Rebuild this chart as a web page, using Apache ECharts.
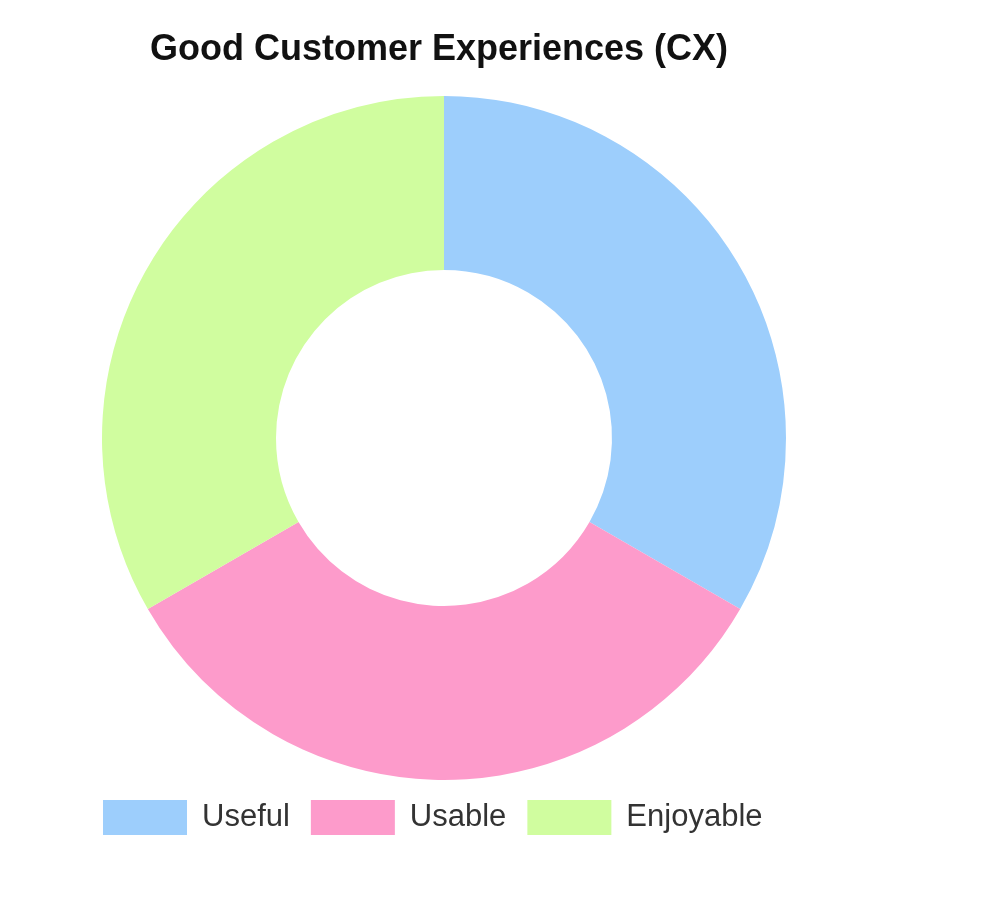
<!DOCTYPE html>
<html><head><meta charset="utf-8">
<script src="https://cdn.jsdelivr.net/npm/echarts@6/dist/echarts.min.js"></script>
<style>html,body{margin:0;padding:0;background:#fff}#c{width:982px;height:906px}</style>
</head><body><div id="c"></div>
<script>
const categories = ["Useful", "Usable", "Enjoyable"];
const values = [1, 1, 1];
const colors = ["#9DCEFC", "#FD9BCB", "#D0FD9F"];

const chart = echarts.init(document.getElementById('c'));
chart.setOption({
  animation: false,
  title: {
    text: "Good Customer Experiences (CX)",
    left: 439, top: 32, textAlign: 'center', padding: 0,
    textStyle: { fontFamily: "Liberation Sans", fontWeight: 'bold', fontSize: 36, color: '#111' }
  },
  legend: {
    left: 98, top: 795,
    itemWidth: 84, itemHeight: 35, itemGap: 21,
    icon: 'rect',
    data: categories,
    textStyle: { fontFamily: "Liberation Sans", fontSize: 31, color: '#333', padding: [0, 0, 0, 10] }
  },
  series: [{
    type: 'pie',
    center: [444, 438],
    radius: [168, 342],
    startAngle: 90,
    clockwise: true,
    label: { show: false },
    labelLine: { show: false },
    emphasis: { disabled: true },
    data: categories.map((n, i) => ({ name: n, value: values[i], itemStyle: { color: colors[i] } }))
  }]
});
</script></body></html>
